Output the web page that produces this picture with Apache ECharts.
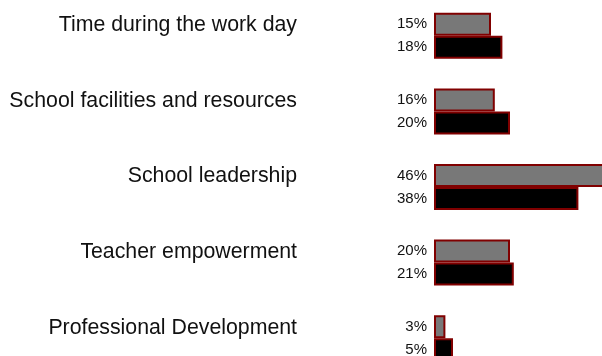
<!DOCTYPE html>
<html>
<head>
<meta charset="utf-8">
<script src="https://cdn.jsdelivr.net/npm/echarts@6/dist/echarts.min.js"></script>
<style>html,body{margin:0;padding:0;background:#fff;overflow:hidden;width:602px;height:356px;}#c{width:624px;height:378px;margin-top:-2px;}</style>
</head>
<body>
<div id="c"></div>
<script>
const categories = ["Time during the work day", "School facilities and resources", "School leadership", "Teacher empowerment", "Professional Development"];
const seriesA = [15, 16, 46, 20, 3];
const seriesB = [18, 20, 38, 21, 5];

const chart = echarts.init(document.getElementById('c'), null, {renderer: 'canvas'});
const labelCfg = {
  show: true, position: 'left', distance: 7,
  formatter: p => p.value + '%',
  fontFamily: 'Liberation Sans, Arial, sans-serif', fontSize: 15, color: '#111'
};
chart.setOption({
  animation: false,
  backgroundColor: '#fff',
  grid: {left: 434, right: 0, top: 0, bottom: 0, containLabel: false},
  xAxis: {type: 'value', min: 0, max: 50, show: false, splitLine: {show: false}},
  yAxis: {
    type: 'category', data: categories, inverse: true,
    axisLine: {show: false}, axisTick: {show: false},
    axisLabel: {
      margin: 137, fontSize: 21.3, color: '#111',
      fontFamily: 'Liberation Sans, Arial, sans-serif',
      verticalAlign: 'bottom', lineHeight: 21
    }
  },
  series: [
    {type: 'bar', data: seriesA, barWidth: 23, barGap: '0%',
     itemStyle: {color: '#787878', borderColor: '#800000', borderWidth: 2},
     label: labelCfg},
    {type: 'bar', data: seriesB, barWidth: 23, barGap: '0%',
     itemStyle: {color: '#000000', borderColor: '#800000', borderWidth: 2},
     label: labelCfg}
  ]
});
</script>
</body>
</html>
